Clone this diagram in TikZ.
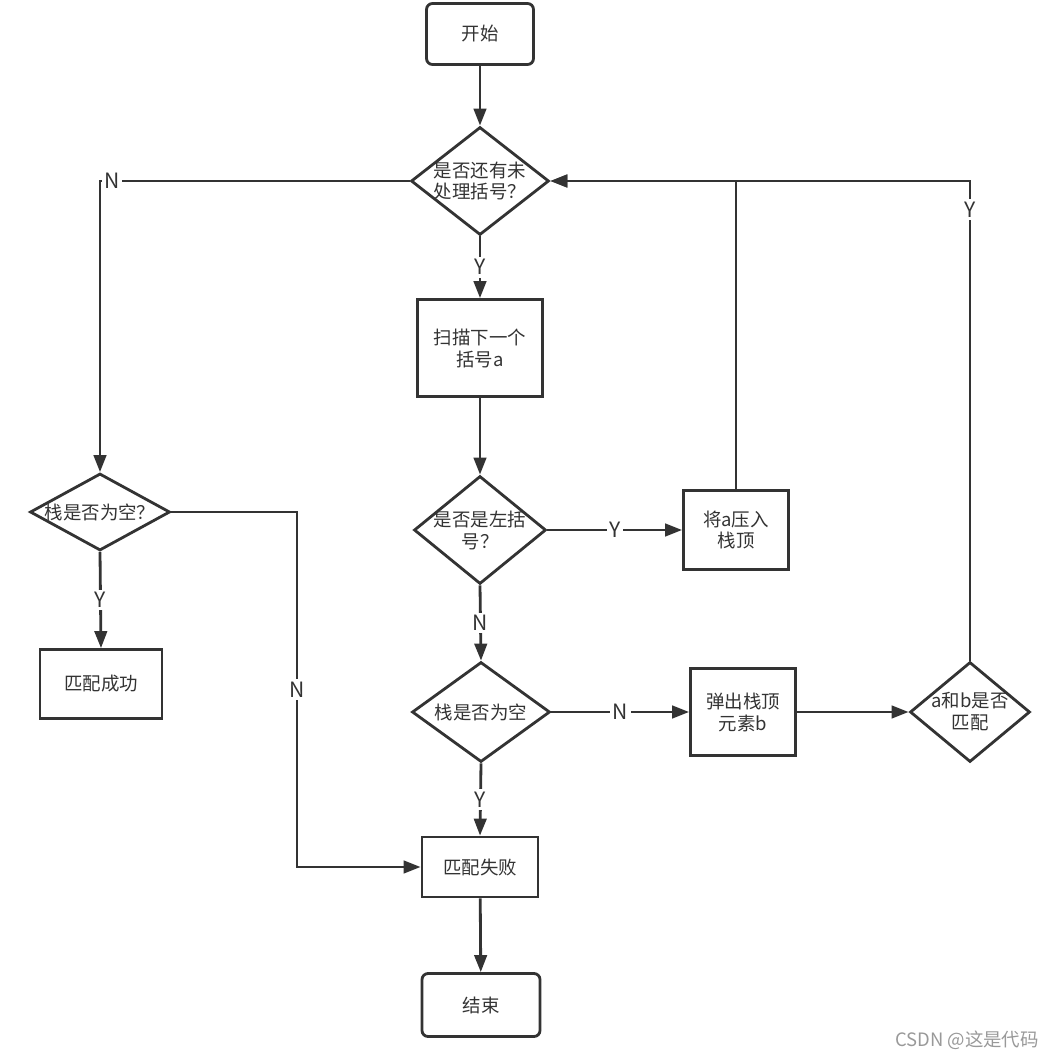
\documentclass[tikz,border=0pt]{standalone}
\usepackage{fontspec}
\setmainfont{Noto Sans CJK SC}
\usepackage{xcolor}
\usepackage{tikz}
\usetikzlibrary{arrows.meta, shapes.geometric}
\definecolor{ink}{HTML}{333333}
\definecolor{mark}{HTML}{999999}

\begin{document}
\begin{tikzpicture}[
    x=0.02cm, y=-0.02cm,
    >={Triangle[length=0.34cm, width=0.25cm]},
    line width=1.6pt,
    every node/.style={text=ink, font=\fontsize{10.5}{12.5}\selectfont},
    term/.style={draw=ink, rounded corners=0.12cm, minimum width=2.2cm, minimum height=1.22cm},
    proc/.style={draw=ink, align=center, inner sep=0pt},
    dia/.style={draw=ink, diamond, inner sep=0pt},
    arr/.style={draw=ink, ->},
    lab/.style={fill=white, inner sep=1.5pt, font=\fontsize{12}{14}\selectfont}
]

% Frame
\useasboundingbox (0,0) rectangle (1050,1058);

% Start and end
\node[term, minimum width=2.14cm] (start) at (480,34) {开始};
\node[term, minimum width=2.36cm, minimum height=1.26cm] (stop) at (481,1005) {结束};

% Main column
\node[dia, minimum width=2.76cm, minimum height=2.16cm,
    label={[align=center]center:是否还有未\\处理括号？}] (more) at (480,181) {};
\node[proc, minimum width=2.5cm, minimum height=1.94cm] (scan) at (480,348) {扫描下一个\\括号a};
\node[dia, minimum width=2.64cm, minimum height=2.16cm,
    label={[align=center]center:是否是左括\\号？}] (left) at (480,530) {};
\node[dia, minimum width=2.76cm, minimum height=2cm,
    label={center:栈是否为空}] (empty) at (481,712) {};
\node[proc, minimum width=2.32cm, minimum height=1.2cm] (fail) at (480,867) {匹配失败};

% Right side
\node[proc, minimum width=2.1cm, minimum height=1.58cm] (push) at (736,530) {将a压入\\栈顶};
\node[proc, minimum width=2.1cm, minimum height=1.74cm] (pop) at (743,712) {弹出栈顶\\元素b};
\node[dia, minimum width=2.4cm, minimum height=2cm,
    label={[align=center]center:a和b是否\\匹配}] (match) at (970,712) {};

% Left side
\node[dia, minimum width=2.8cm, minimum height=1.54cm,
    label={center:栈是否为空？}] (last) at (100,512) {};
\node[proc, minimum width=2.44cm, minimum height=1.38cm] (ok) at (101,684) {匹配成功};
\coordinate (bend) at (297,867);

% Connectors
\draw[arr] (start) -- (more);
\draw[arr] (more) -- node[lab]{Y} (scan);
\draw[arr] (more.west) -| node[lab, pos=0.5, xshift=0.24cm]{N} (last.north);
\draw[arr] (scan) -- (left);
\draw[arr] (left.east) -- node[lab]{Y} (push.west);
\draw[arr] (push.north) |- (more.east);
\draw[arr] (left.south) -- node[lab]{N} (empty.north);
\draw[arr] (empty.east) -- node[lab]{N} (pop.west);
\draw[arr] (pop.east) -- (match.west);
\draw[arr] (match.north) |- node[lab, pos=0.47]{Y} (more.east);
\draw[arr] (empty.south) -- node[lab]{Y} (fail.north);
\draw[arr] (last.south) -- node[lab]{Y} (ok.north);
\draw[arr] (last.east) -| node[lab, pos=0.75]{N} (bend) -- (fail.west);
\draw[arr] (fail) -- (stop);

% Watermark
\node[text=mark] (note) at (967,1040) {CSDN @这是代码};
\end{tikzpicture}
\end{document}
